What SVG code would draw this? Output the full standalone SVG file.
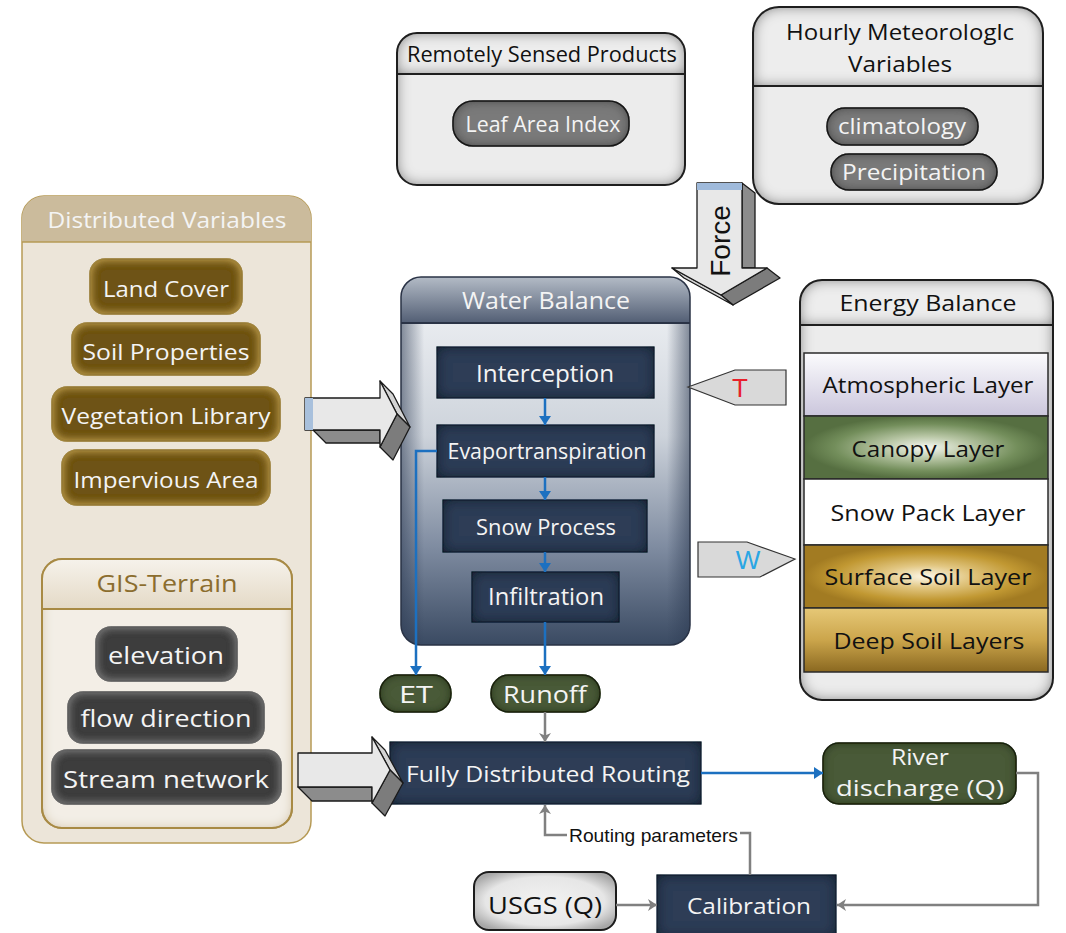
<svg xmlns="http://www.w3.org/2000/svg" width="1066" height="933" viewBox="0 0 1066 933">
  <defs>
    <style>
      .t { font-family: "Open Sans", "Liberation Sans", sans-serif; text-anchor: middle; }
      .w { fill: #f4f4f4; }
      .k { fill: #111; }
      .hdr { font-size: 21px; }
      .lbl { font-size: 22px; }
      .big { font-size: 24px; }
      .frame { fill: none; stroke: #1e1e1e; stroke-width: 2; }
      .div { stroke: #1e1e1e; stroke-width: 2; }
      .navy { fill: #2e3d57; stroke: #1a2233; stroke-width: 1; filter: url(#fxNavy); }
      .green { fill: #4a5a39; stroke: #1f2917; stroke-width: 1.5; filter: url(#fxGreen); }
      .gold { fill: #6e5214; stroke: #3b2c0a; stroke-width: 1.5; filter: url(#fxGold); }
      .gpill { fill: #3c3c3c; stroke: #1c1c1c; stroke-width: 1.5; filter: url(#fxGis); }
      .dpill { fill: #7a7a7a; stroke: #1c1c1c; stroke-width: 1.5; filter: url(#fxDark); }
      .blue { fill: none; stroke: #1c70c0; stroke-width: 2.5; }
      .gray { fill: none; stroke: #808080; stroke-width: 2.5; }
      .face { stroke: #1a1a1a; stroke-width: 1.3; stroke-linejoin: round; }
      .layer { stroke: #2a2a2a; stroke-width: 1.5; }
    </style>

    <!-- inner-shadow style shading -->
    <filter id="fxGray" x="-5%" y="-5%" width="110%" height="110%">
      <feGaussianBlur in="SourceAlpha" stdDeviation="7" result="b"/>
      <feComposite in="SourceAlpha" in2="b" operator="out" result="e"/>
      <feFlood flood-color="#5a5a5a"/>
      <feComposite in2="e" operator="in" result="s"/>
      <feMerge><feMergeNode in="SourceGraphic"/><feMergeNode in="s"/></feMerge>
    </filter>
    <filter id="fxNavy" x="-5%" y="-5%" width="110%" height="110%">
      <feGaussianBlur in="SourceAlpha" stdDeviation="7" result="b"/>
      <feComposite in="SourceAlpha" in2="b" operator="out" result="e"/>
      <feFlood flood-color="#0c121d"/>
      <feComposite in2="e" operator="in" result="s"/>
      <feMerge><feMergeNode in="SourceGraphic"/><feMergeNode in="s"/></feMerge>
    </filter>
    <filter id="fxGreen" x="-5%" y="-5%" width="110%" height="110%">
      <feGaussianBlur in="SourceAlpha" stdDeviation="5" result="b"/>
      <feComposite in="SourceAlpha" in2="b" operator="out" result="e"/>
      <feFlood flood-color="#111a0c"/>
      <feComposite in2="e" operator="in" result="s"/>
      <feMerge><feMergeNode in="SourceGraphic"/><feMergeNode in="s"/></feMerge>
    </filter>
    <filter id="fxGold" x="-5%" y="-5%" width="110%" height="110%">
      <feGaussianBlur in="SourceAlpha" stdDeviation="5" result="b"/>
      <feComposite in="SourceAlpha" in2="b" operator="out" result="e"/>
      <feFlood flood-color="#d6b152"/>
      <feComposite in2="e" operator="in" result="s"/>
      <feMerge><feMergeNode in="SourceGraphic"/><feMergeNode in="s"/></feMerge>
    </filter>
    <filter id="fxGis" x="-5%" y="-5%" width="110%" height="110%">
      <feGaussianBlur in="SourceAlpha" stdDeviation="5" result="b"/>
      <feComposite in="SourceAlpha" in2="b" operator="out" result="e"/>
      <feFlood flood-color="#8a8a8a"/>
      <feComposite in2="e" operator="in" result="s"/>
      <feMerge><feMergeNode in="SourceGraphic"/><feMergeNode in="s"/></feMerge>
    </filter>
    <filter id="fxDark" x="-5%" y="-5%" width="110%" height="110%">
      <feGaussianBlur in="SourceAlpha" stdDeviation="6" result="b"/>
      <feComposite in="SourceAlpha" in2="b" operator="out" result="e"/>
      <feFlood flood-color="#1a1a1a"/>
      <feComposite in2="e" operator="in" result="s"/>
      <feMerge><feMergeNode in="SourceGraphic"/><feMergeNode in="s"/></feMerge>
    </filter>
    <filter id="fxTan" x="-5%" y="-5%" width="110%" height="110%">
      <feGaussianBlur in="SourceAlpha" stdDeviation="6" result="b"/>
      <feComposite in="SourceAlpha" in2="b" operator="out" result="e"/>
      <feFlood flood-color="#c9b894"/>
      <feComposite in2="e" operator="in" result="s"/>
      <feMerge><feMergeNode in="SourceGraphic"/><feMergeNode in="s"/></feMerge>
    </filter>

    <linearGradient id="wbHead" x1="0" y1="0" x2="0" y2="1">
      <stop offset="0" stop-color="#b3bbc6"/>
      <stop offset="1" stop-color="#525e74"/>
    </linearGradient>
    <linearGradient id="wbBody" x1="0" y1="0" x2="0" y2="1">
      <stop offset="0" stop-color="#e8ebef"/>
      <stop offset="0.35" stop-color="#cdd3db"/>
      <stop offset="0.7" stop-color="#7e8ba0"/>
      <stop offset="1" stop-color="#3a4a62"/>
    </linearGradient>
    <linearGradient id="wbSide" x1="0" y1="0" x2="1" y2="0">
      <stop offset="0" stop-color="#2c3a52" stop-opacity="0.55"/>
      <stop offset="0.08" stop-color="#2c3a52" stop-opacity="0"/>
      <stop offset="0.92" stop-color="#2c3a52" stop-opacity="0"/>
      <stop offset="1" stop-color="#2c3a52" stop-opacity="0.55"/>
    </linearGradient>
    <linearGradient id="atmo" x1="0" y1="0" x2="0" y2="1">
      <stop offset="0" stop-color="#fbfbfd"/>
      <stop offset="1" stop-color="#cbc6dc"/>
    </linearGradient>
    <radialGradient id="canopy" cx="0.5" cy="0.5" r="0.5">
      <stop offset="0" stop-color="#f6f8f2"/>
      <stop offset="0.35" stop-color="#b9c7a6"/>
      <stop offset="0.75" stop-color="#738e5b"/>
      <stop offset="1" stop-color="#566f41"/>
    </radialGradient>
    <radialGradient id="surface" cx="0.5" cy="0.5" r="0.5">
      <stop offset="0" stop-color="#fcf7e8"/>
      <stop offset="0.35" stop-color="#e2c783"/>
      <stop offset="0.75" stop-color="#c19832"/>
      <stop offset="1" stop-color="#a27b22"/>
    </radialGradient>
    <linearGradient id="deep" x1="0" y1="0" x2="0" y2="1">
      <stop offset="0" stop-color="#e6c877"/>
      <stop offset="0.5" stop-color="#cba54b"/>
      <stop offset="1" stop-color="#8a6820"/>
    </linearGradient>
    <linearGradient id="gisHead" x1="0" y1="0" x2="0" y2="1">
      <stop offset="0" stop-color="#f6f2eb"/>
      <stop offset="1" stop-color="#e4d9c6"/>
    </linearGradient>
    <radialGradient id="usgs" cx="0.5" cy="0.5" r="0.6">
      <stop offset="0" stop-color="#f2f2f2"/>
      <stop offset="0.7" stop-color="#e6e6e6"/>
      <stop offset="1" stop-color="#a8a8a8"/>
    </radialGradient>

    <clipPath id="wbClip">
      <rect x="401" y="277" width="289" height="368" rx="20"/>
    </clipPath>

    <marker id="ahBlue" viewBox="0 0 9 12" refX="9" refY="6" markerWidth="9" markerHeight="12" markerUnits="userSpaceOnUse" orient="auto">
      <path d="M0,0 L9,6 L0,12 Z" fill="#1c70c0"/>
    </marker>
    <marker id="ahGray" viewBox="0 0 9 12" refX="9" refY="6" markerWidth="9" markerHeight="12" markerUnits="userSpaceOnUse" orient="auto">
      <path d="M0,0 L9,6 L0,12 L2.5,6 Z" fill="#808080"/>
    </marker>
  </defs>

  <rect width="1066" height="933" fill="#ffffff"/>

  <!-- Remotely sensed products -->
  <g id="remote">
    <rect x="397" y="33" width="288" height="152" rx="20" fill="#ececec" filter="url(#fxGray)"/>
    <path d="M397,74 V53 A20,20 0 0 1 417,33 H665 A20,20 0 0 1 685,53 V74 Z" fill="#ededed" filter="url(#fxGray)"/>
    <rect x="397" y="33" width="288" height="152" rx="20" class="frame"/>
    <line x1="397" y1="74" x2="685" y2="74" class="div"/>
    <text x="542" y="62" class="t k hdr" textLength="270" lengthAdjust="spacingAndGlyphs">Remotely Sensed Products</text>
    <g id="lai">
      <rect x="453" y="101" width="176" height="45" rx="20" class="dpill"/>
      <text x="543" y="132" class="t w lbl" textLength="155" lengthAdjust="spacingAndGlyphs">Leaf Area Index</text>
    </g>
  </g>

  <!-- Hourly meteorologic variables -->
  <g id="meteo">
    <rect x="753" y="7" width="290" height="197" rx="26" fill="#ececec" filter="url(#fxGray)"/>
    <path d="M753,86 V33 A26,26 0 0 1 779,7 H1017 A26,26 0 0 1 1043,33 V86 Z" fill="#ededed" filter="url(#fxGray)"/>
    <rect x="753" y="7" width="290" height="197" rx="26" class="frame"/>
    <line x1="753" y1="86" x2="1043" y2="86" class="div"/>
    <text x="900" y="40" class="t k lbl" textLength="228" lengthAdjust="spacingAndGlyphs">Hourly Meteorologlc</text>
    <text x="900" y="72" class="t k lbl" textLength="104" lengthAdjust="spacingAndGlyphs">Variables</text>
    <g id="climatology">
      <rect x="827" y="108" width="151" height="37" rx="18" class="dpill"/>
      <text x="902" y="134" class="t w lbl" textLength="128" lengthAdjust="spacingAndGlyphs">climatology</text>
    </g>
    <g id="precip">
      <rect x="831" y="154" width="166" height="36" rx="18" class="dpill"/>
      <text x="914" y="180" class="t w lbl" textLength="144" lengthAdjust="spacingAndGlyphs">Precipitation</text>
    </g>
  </g>

  <!-- Distributed variables and GIS terrain -->
  <g id="distributed">
    <rect x="22" y="196" width="289" height="647" rx="22" fill="#ece5d9" stroke="#b69a55" stroke-width="1.5"/>
    <path d="M22,242 V218 A22,22 0 0 1 44,196 H289 A22,22 0 0 1 311,218 V242 Z" fill="#cbbb9c"/>
    <line x1="22" y1="242" x2="311" y2="242" stroke="#b69a55" stroke-width="1.5"/>
    <text x="167" y="228" class="t w hdr" textLength="239" lengthAdjust="spacingAndGlyphs">Distributed Variables</text>
    <g id="landcover">
      <rect x="90" y="259" width="152" height="55" rx="15" class="gold"/>
      <text x="166" y="297" class="t w lbl" textLength="126" lengthAdjust="spacingAndGlyphs">Land Cover</text>
    </g>
    <g id="soil">
      <rect x="72" y="323" width="188" height="52" rx="15" class="gold"/>
      <text x="166" y="360" class="t w lbl" textLength="167" lengthAdjust="spacingAndGlyphs">Soil Properties</text>
    </g>
    <g id="veglib">
      <rect x="52" y="387" width="228" height="54" rx="15" class="gold"/>
      <text x="166" y="424" class="t w lbl" textLength="209" lengthAdjust="spacingAndGlyphs">Vegetation Library</text>
    </g>
    <g id="impervious">
      <rect x="62" y="450" width="208" height="55" rx="15" class="gold"/>
      <text x="166" y="488" class="t w lbl" textLength="185" lengthAdjust="spacingAndGlyphs">Impervious Area</text>
    </g>
  </g>

  <g id="gis">
    <rect x="42" y="559" width="250" height="269" rx="20" fill="#f3eee6" stroke="#a88a44" stroke-width="2" filter="url(#fxTan)"/>
    <path d="M42,609 V579 A20,20 0 0 1 62,559 H272 A20,20 0 0 1 292,579 V609 Z" fill="url(#gisHead)"/>
    <rect x="42" y="559" width="250" height="269" rx="20" fill="none" stroke="#a88a44" stroke-width="2"/>
    <line x1="42" y1="609" x2="292" y2="609" stroke="#a88a44" stroke-width="2"/>
    <text x="167" y="592" class="t big" fill="#8b6d2e" textLength="141" lengthAdjust="spacingAndGlyphs">GIS-Terrain</text>
    <g id="elevation">
      <rect x="96" y="627" width="141" height="54" rx="15" class="gpill"/>
      <text x="166" y="664" class="t w big" textLength="116" lengthAdjust="spacingAndGlyphs">elevation</text>
    </g>
    <g id="flowdir">
      <rect x="68" y="692" width="196" height="51" rx="15" class="gpill"/>
      <text x="166" y="727" class="t w big" textLength="171" lengthAdjust="spacingAndGlyphs">flow direction</text>
    </g>
    <g id="stream">
      <rect x="52" y="750" width="229" height="54" rx="15" class="gpill"/>
      <text x="166" y="788" class="t w big" textLength="206" lengthAdjust="spacingAndGlyphs">Stream network</text>
    </g>
  </g>

  <!-- Water balance -->
  <g id="water">
    <g clip-path="url(#wbClip)">
      <rect x="401" y="277" width="289" height="46" fill="url(#wbHead)"/>
      <rect x="401" y="323" width="289" height="322" fill="url(#wbBody)"/>
      <rect x="401" y="323" width="289" height="322" fill="url(#wbSide)"/>
    </g>
    <rect x="401" y="277" width="289" height="368" rx="20" fill="none" stroke="#2a3346" stroke-width="1.5"/>
    <line x1="401" y1="323" x2="690" y2="323" stroke="#2a3346" stroke-width="2"/>
    <text x="546" y="309" class="t w big" textLength="168" lengthAdjust="spacingAndGlyphs">Water Balance</text>
    <g id="interception">
      <rect x="437" y="347" width="217" height="51" class="navy"/>
      <text x="545" y="382" class="t w big" textLength="138" lengthAdjust="spacingAndGlyphs">Interception</text>
    </g>
    <g id="evap">
      <rect x="437" y="425" width="217" height="52" class="navy"/>
      <text x="547" y="459" class="t w" font-size="21" textLength="199" lengthAdjust="spacingAndGlyphs">Evaportranspiration</text>
    </g>
    <g id="snow">
      <rect x="443" y="500" width="204" height="52" class="navy"/>
      <text x="546" y="535" class="t w lbl" textLength="140" lengthAdjust="spacingAndGlyphs">Snow Process</text>
    </g>
    <g id="infiltration">
      <rect x="472" y="572" width="147" height="50" class="navy"/>
      <text x="546" y="605" class="t w big" textLength="116" lengthAdjust="spacingAndGlyphs">Infiltration</text>
    </g>
  </g>

  <!-- Energy balance -->
  <g id="energy">
    <rect x="800" y="280" width="253" height="420" rx="22" fill="#ececec" filter="url(#fxGray)"/>
    <path d="M800,325 V302 A22,22 0 0 1 822,280 H1031 A22,22 0 0 1 1053,302 V325 Z" fill="#ededed" filter="url(#fxGray)"/>
    <rect x="800" y="280" width="253" height="420" rx="22" class="frame"/>
    <line x1="800" y1="325" x2="1053" y2="325" class="div"/>
    <text x="928" y="311" class="t k lbl" textLength="177" lengthAdjust="spacingAndGlyphs">Energy Balance</text>
    <rect x="804" y="353" width="244" height="63" fill="url(#atmo)" class="layer"/>
    <rect x="804" y="416" width="244" height="63" fill="url(#canopy)" class="layer"/>
    <rect x="804" y="479" width="244" height="66" fill="#ffffff" class="layer"/>
    <rect x="804" y="545" width="244" height="63" fill="url(#surface)" class="layer"/>
    <rect x="804" y="608" width="244" height="64" fill="url(#deep)" class="layer"/>
    <text x="928" y="393" class="t k lbl" textLength="211" lengthAdjust="spacingAndGlyphs">Atmospheric Layer</text>
    <text x="928" y="457" class="t k lbl" textLength="153" lengthAdjust="spacingAndGlyphs">Canopy Layer</text>
    <text x="928" y="521" class="t k lbl" textLength="195" lengthAdjust="spacingAndGlyphs">Snow Pack Layer</text>
    <text x="928" y="585" class="t k lbl" textLength="207" lengthAdjust="spacingAndGlyphs">Surface Soil Layer</text>
    <text x="929" y="649" class="t k lbl" textLength="191" lengthAdjust="spacingAndGlyphs">Deep Soil Layers</text>
  </g>

  <!-- Outputs and routing -->
  <g id="et">
    <rect x="380" y="675" width="71" height="37" rx="18" class="green"/>
    <text x="416" y="703" class="t w big" textLength="34" lengthAdjust="spacingAndGlyphs">ET</text>
  </g>
  <g id="runoff">
    <rect x="491" y="675" width="109" height="37" rx="18" class="green"/>
    <text x="545" y="703" class="t w big" textLength="84" lengthAdjust="spacingAndGlyphs">Runoff</text>
  </g>
  <g id="routing">
    <rect x="390" y="742" width="311" height="62" class="navy"/>
    <text x="548" y="782" class="t w lbl" textLength="284" lengthAdjust="spacingAndGlyphs">Fully Distributed Routing</text>
  </g>
  <g id="river">
    <rect x="823" y="743" width="193" height="61" rx="16" class="green"/>
    <text x="920" y="765" class="t w lbl" textLength="58" lengthAdjust="spacingAndGlyphs">River</text>
    <text x="920" y="796" class="t w lbl" textLength="168" lengthAdjust="spacingAndGlyphs">discharge (Q)</text>
  </g>
  <g id="usgs">
    <rect x="474" y="872" width="142" height="58" rx="15" fill="url(#usgs)" stroke="#1c1c1c" stroke-width="2"/>
    <text x="545" y="914" class="t k big" textLength="114" lengthAdjust="spacingAndGlyphs">USGS (Q)</text>
  </g>
  <g id="calibration">
    <rect x="657" y="875" width="179" height="62" class="navy"/>
    <text x="749" y="914" class="t w lbl" textLength="124" lengthAdjust="spacingAndGlyphs">Calibration</text>
  </g>

  <!-- Block arrows -->
  <g id="force">
    <polygon class="face" points="742,183 755,193 755,268 742,268" fill="#8c8c8c"/>
    <polygon class="face" points="767,268 780,278 733,305 721,295" fill="#7c7c7c"/>
    <polygon class="face" points="672,268 721,295 733,305 684,278" fill="#d4d4d4"/>
    <polygon class="face" points="697,183 742,183 742,268 767,268 721,295 672,268 697,268" fill="#e8e8e8"/>
    <rect x="697" y="183" width="45" height="7" fill="#9fbadb"/>
    <text transform="translate(730,241) rotate(-90)" font-family="Liberation Sans, Arial, sans-serif" font-size="28" text-anchor="middle" fill="#111">Force</text>
  </g>
  <g id="arrowDist">
    <polygon class="face" points="313,430 326,443 380,443 380,430" fill="#8c8c8c"/>
    <polygon class="face" points="380,381 393,394 410,427 397,414" fill="#d4d4d4"/>
    <polygon class="face" points="397,414 410,427 393,460 380,447" fill="#7c7c7c"/>
    <polygon class="face" points="305,398 380,398 380,381 397,414 380,447 380,430 305,430" fill="#e8e8e8"/>
    <rect x="305" y="398" width="8" height="32" fill="#a8c0dc"/>
  </g>
  <g id="arrowGis">
    <polygon class="face" points="298,787 312,801 372,801 372,787" fill="#8c8c8c"/>
    <polygon class="face" points="372,737 385,750 403,783 390,770" fill="#d4d4d4"/>
    <polygon class="face" points="390,770 403,783 385,816 372,803" fill="#7c7c7c"/>
    <polygon class="face" points="298,753 372,753 372,737 390,770 372,803 372,787 298,787" fill="#e8e8e8"/>
  </g>
  <g id="tArrow">
    <polygon points="688,387 735,370 786,370 786,405 735,405" fill="#d9d9d9" stroke="#333" stroke-width="1.2"/>
    <text x="740" y="397" font-family="Liberation Sans, Arial, sans-serif" font-size="26" text-anchor="middle" fill="#e8202a">T</text>
  </g>
  <g id="wArrow">
    <polygon points="698,542 747,542 795,559 760,577 698,577" fill="#d9d9d9" stroke="#333" stroke-width="1.2"/>
    <text x="748" y="569" font-family="Liberation Sans, Arial, sans-serif" font-size="26" text-anchor="middle" fill="#2aa6e4">W</text>
  </g>

  <!-- Connectors -->
  <g id="connectors">
    <line x1="545" y1="398" x2="545" y2="425" class="blue" marker-end="url(#ahBlue)"/>
    <line x1="545" y1="477" x2="545" y2="500" class="blue" marker-end="url(#ahBlue)"/>
    <line x1="545" y1="552" x2="545" y2="572" class="blue" marker-end="url(#ahBlue)"/>
    <line x1="545" y1="622" x2="545" y2="675" class="blue" marker-end="url(#ahBlue)"/>
    <path d="M437,451 H416 V675" class="blue" marker-end="url(#ahBlue)"/>
    <path d="M701,773 H823" class="blue" marker-end="url(#ahBlue)"/>
    <line x1="545" y1="712" x2="545" y2="742" class="gray" marker-end="url(#ahGray)"/>
    <path d="M567,835 H545 V805" class="gray" marker-end="url(#ahGray)"/>
    <path d="M740,833 H750 V875" class="gray"/>
    <path d="M1016,773 H1038 V905 H837" class="gray" marker-end="url(#ahGray)"/>
    <path d="M616,905 H657" class="gray" marker-end="url(#ahGray)"/>
    <text x="569" y="842" font-family="Liberation Sans, Arial, sans-serif" font-size="19" fill="#111" textLength="169" lengthAdjust="spacingAndGlyphs">Routing parameters</text>
  </g>
</svg>
